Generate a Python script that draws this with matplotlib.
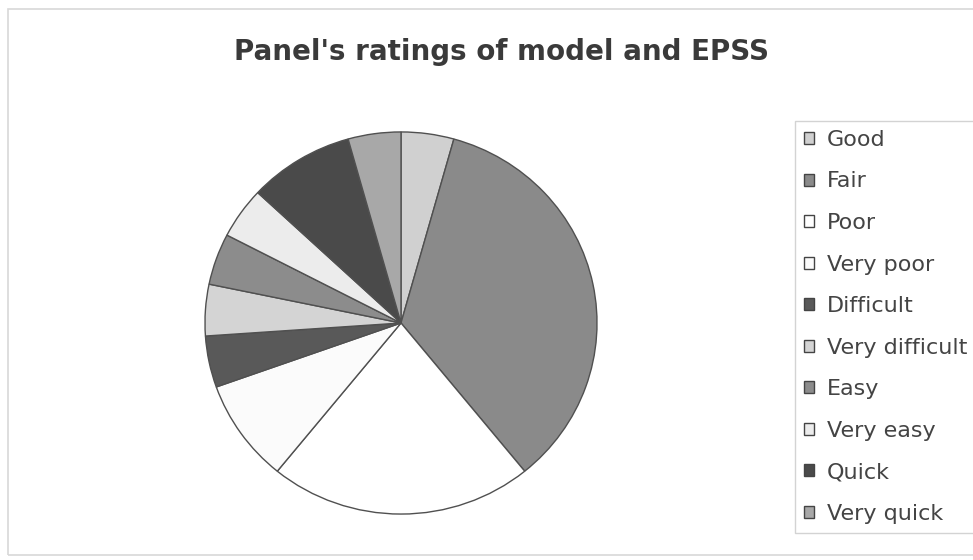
import matplotlib
matplotlib.use("Agg")
import matplotlib.pyplot as plt
from matplotlib.patches import Rectangle, Patch

labels = ['Good', 'Fair', 'Poor', 'Very poor', 'Difficult', 'Very difficult',
          'Easy', 'Very easy', 'Quick', 'Very quick']
counts = [1, 8, 5, 2, 1, 1, 1, 1, 2, 1]
colors = ['#d0d0d0', '#8a8a8a', '#ffffff', '#fbfbfb', '#595959', '#d4d4d4',
          '#8c8c8c', '#ececec', '#4a4a4a', '#a8a8a8']

W, H = 973, 560
fig = plt.figure(figsize=(W / 100, H / 100), dpi=100)
fig.patch.set_facecolor('white')

# faint frame around the chart area
fig.patches.append(Rectangle((8 / W, 5 / H), 1.2, 1 - 14 / H, transform=fig.transFigure,
                             fill=False, edgecolor='#d8d8d8', linewidth=1.2))

cx, cy, rx, ry = 401, 323, 197, 192
ax = fig.add_axes([(cx - rx) / W, (H - cy - ry) / H, 2 * rx / W, 2 * ry / H])
ax.pie(counts, colors=colors, startangle=90, counterclock=False,
       wedgeprops=dict(edgecolor='#505050', linewidth=1.0))
ax.set_aspect('auto')
ax.set_xlim(-1.005, 1.005)
ax.set_ylim(-1.005, 1.005)

fig.text(501 / W, 1 - 52 / H, "Panel's ratings of model and EPSS", ha='center', va='center',
         fontsize=20, fontweight='bold', color='#3a3a3a')

handles = [Patch(facecolor=c, edgecolor='#444444', linewidth=1.0) for c in colors]
leg = fig.legend(handles, labels, loc='upper left', bbox_to_anchor=(795 / W, 1 - 121 / H),
                 fontsize=16, frameon=True, fancybox=False, edgecolor='#c8c8c8',
                 handlelength=0.45, handleheight=0.45, handletextpad=0.6,
                 labelspacing=0.97, borderpad=0.4, borderaxespad=0)
for t in leg.get_texts():
    t.set_color('#444444')
leg.get_frame().set_linewidth(1.0)

fig.savefig('out.png', dpi=100)
